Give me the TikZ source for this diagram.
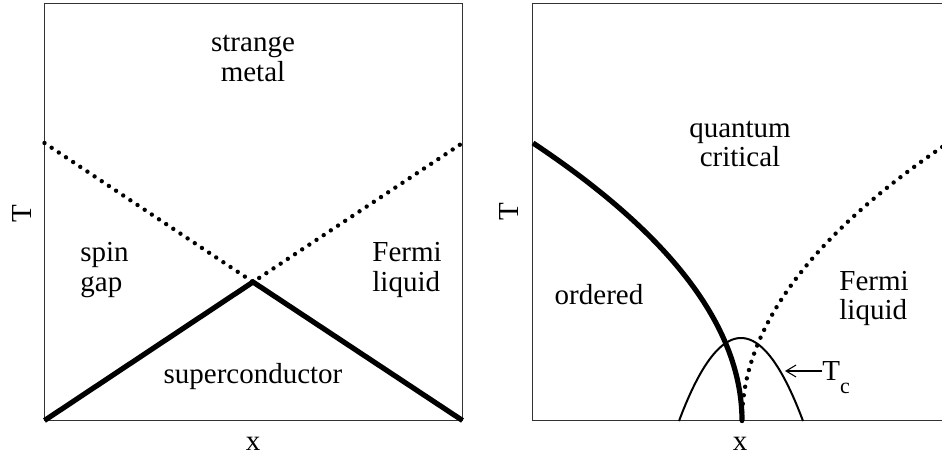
\documentclass[tikz,border=0pt]{standalone}
\usepackage{fontspec}
\setmainfont{Liberation Serif}
\usetikzlibrary{arrows.meta}
\begin{document}
\begin{tikzpicture}[x=0.5pt,y=-0.5pt,
  lbl/.style={font=\fontsize{14.5}{15}\selectfont, inner sep=0pt},
  frame/.style={line width=0.7pt, draw=black!80},
  thickline/.style={line width=2.6pt, line join=miter},
  dotline/.style={line width=2.2pt, line cap=round, dash pattern=on 0pt off 4.3pt},
  dome/.style={line width=1pt},
  tcarrow/.style={line width=0.55pt, -{Straight Barb[length=5pt,width=6pt]}}]
\useasboundingbox (0,0) rectangle (942,454);
\begin{scope}
\clip (0,0) rectangle (942,454);
% ---------- left panel ----------
\coordinate (LBL) at (44.5,420.5);
\coordinate (LTR) at (462.5,3.5);
\coordinate (LBR) at (462.5,420.5);
\coordinate (LdotL) at (44.5,143);
\coordinate (LdotR) at (462.5,143);
\coordinate (Lapex) at (253,282);
\draw[frame] (LBL) rectangle (LTR);
\draw[dotline] (LdotL) -- (Lapex) -- (LdotR);
\draw[thickline] (LBL) -- (Lapex) -- (LBR);
\node[lbl, anchor=base] (strange) at (253,52) {strange};
\node[lbl, anchor=base] (metal) at (253,82) {metal};
\node[lbl, anchor=base west] (spin) at (80,262) {spin};
\node[lbl, anchor=base west] (gap) at (80,292) {gap};
\node[lbl, anchor=base west] (fermiL) at (372,262) {Fermi};
\node[lbl, anchor=base west] (liquidL) at (372,292) {liquid};
\node[lbl, anchor=base] (sc) at (253,383) {superconductor};
\node[lbl, anchor=base] (xL) at (253,450) {x};
\node[lbl, rotate=90] (TL) at (22,214) {T};
% ---------- right panel ----------
\coordinate (RBL) at (532.5,420.5);
\coordinate (RTR) at (951,3.5);
\draw[frame] (RBL) rectangle (RTR);
\draw[dome] plot[domain=679:803, samples=70, smooth] (\x,{421-83*(1-((\x-741)/62)^2)});
\draw[dotline] plot[domain=0:282, samples=90, smooth] ({742+209*(\x/280)^2},{421-\x});
\draw[thickline] plot[domain=0:278, samples=90, smooth] ({742-209*(\x/278)^2},{421-\x});
\node[lbl, anchor=base] (quantum) at (740,138) {quantum};
\node[lbl, anchor=base] (critical) at (740,167) {critical};
\node[lbl, anchor=base] (ordered) at (599,305) {ordered};
\node[lbl, anchor=base west] (fermiR) at (839,291) {Fermi};
\node[lbl, anchor=base west] (liquidR) at (839,320) {liquid};
\node[lbl, anchor=base] (xR) at (740,450) {x};
\node[lbl, rotate=90] (TR) at (509,212) {T};
\node[lbl, anchor=base west] (Tc) at (822,380) {T\raisebox{-6.5pt}{\fontsize{11}{11}\selectfont c}};
\coordinate (tctip) at (785,371);
\draw[tcarrow] (Tc.west |- tctip) -- (tctip);
\end{scope}
\end{tikzpicture}
\end{document}
